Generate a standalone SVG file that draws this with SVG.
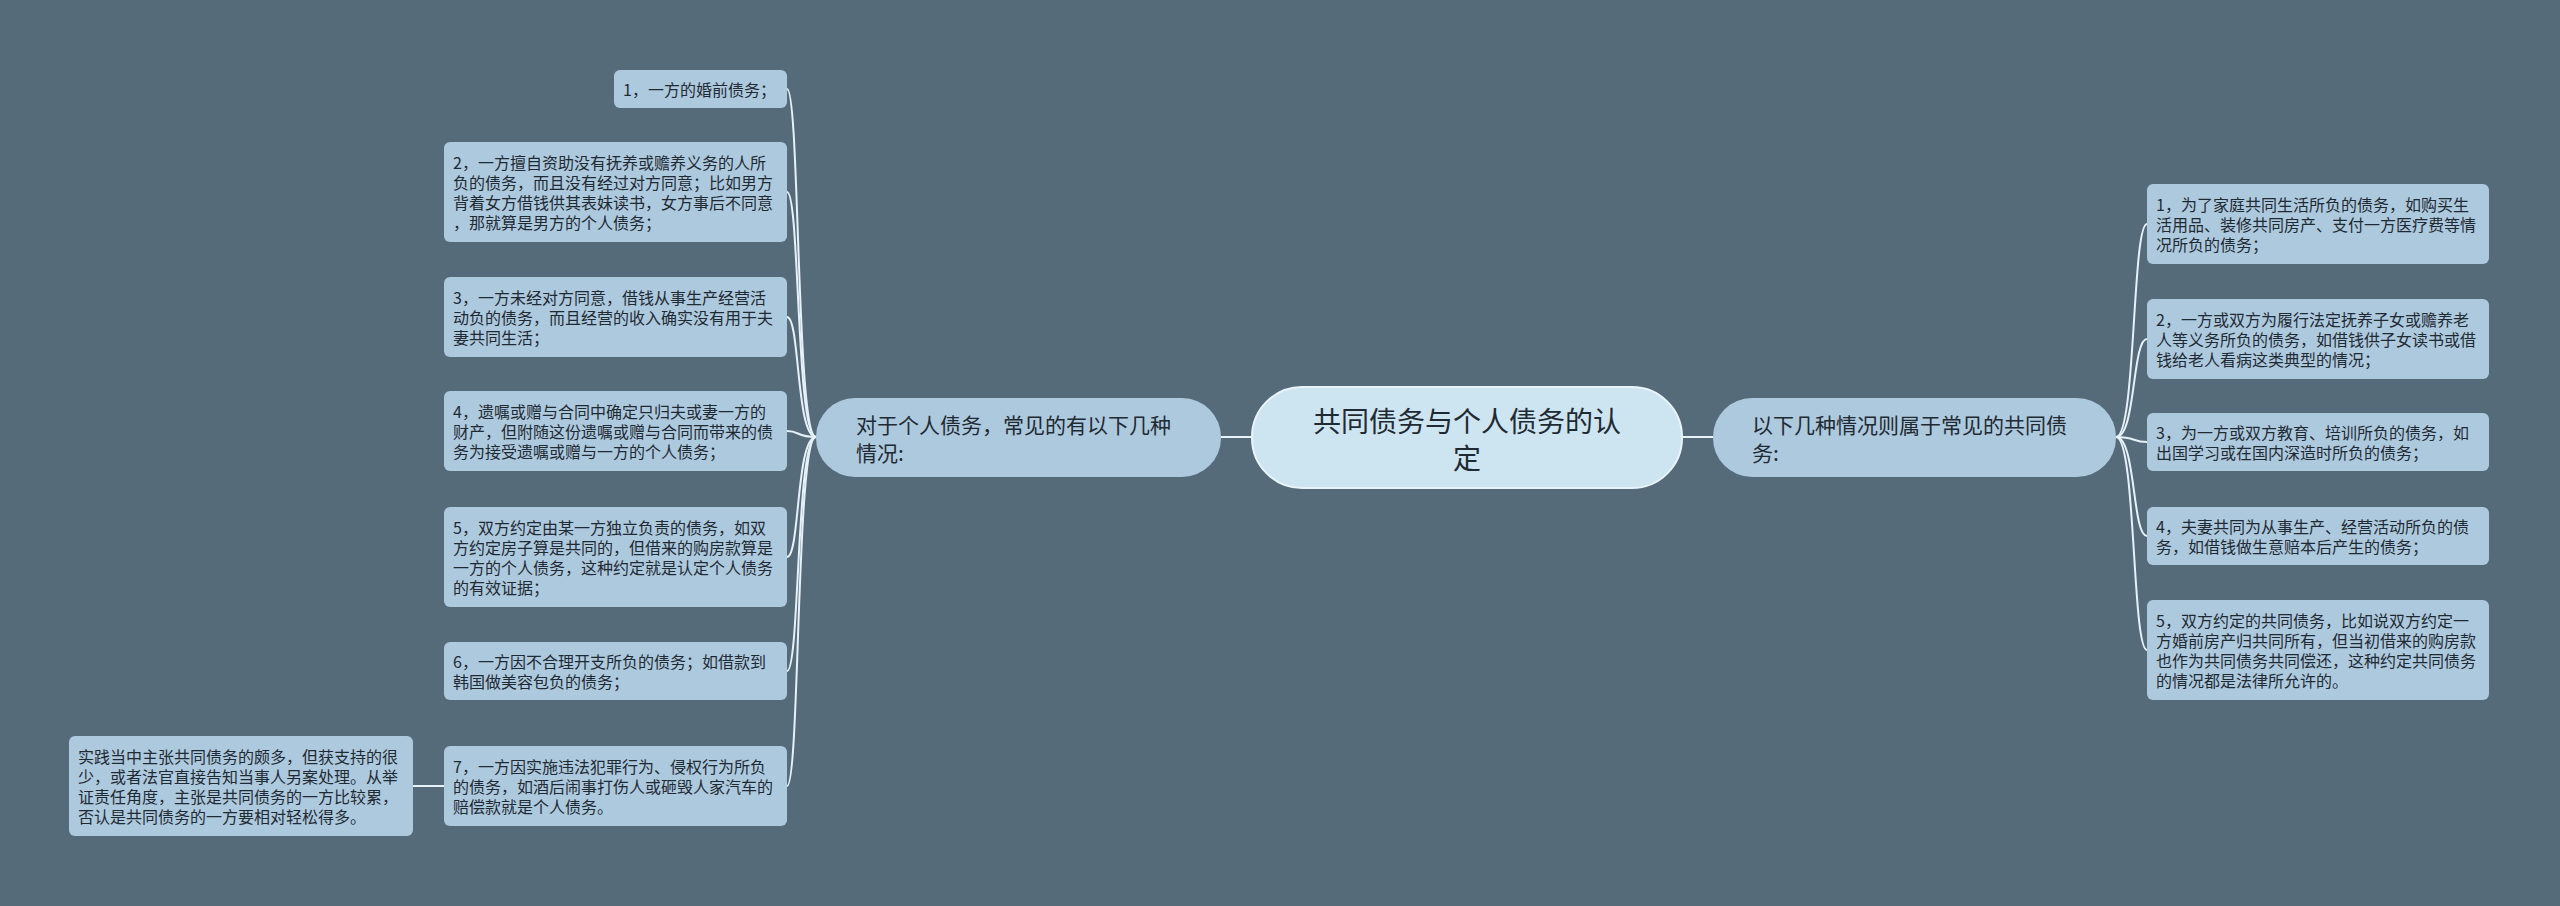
<svg xmlns="http://www.w3.org/2000/svg" width="2560" height="906" viewBox="0 0 2560 906">
<style>
.bg{fill:#566b7a}
.leaf{fill:#adc9de}
.branch{fill:#adc9de}
.center{fill:#cde4f1;stroke:#e9f4fa;stroke-width:2}
.t{font-family:"Noto Sans CJK SC","Noto Sans",sans-serif;font-size:16px;fill:#1f2a33;dominant-baseline:central}
.tb{font-family:"Noto Sans CJK SC","Noto Sans",sans-serif;font-size:21px;fill:#1f2a33;dominant-baseline:central}
.tc{font-family:"Noto Sans CJK SC","Noto Sans",sans-serif;font-size:28px;fill:#1f2a33;dominant-baseline:central;text-anchor:middle}
.c{fill:none;stroke:#e6f1f8;stroke-width:2}
</style>
<rect class="bg" x="0" y="0" width="2560" height="906"/>
<g id="connectors">
<path class="c" d="M1221 437 L1252 437"/>
<path class="c" d="M1682 437 L1713 437"/>
<path class="c" d="M816 437 C796 437 800 89 787 89"/>
<path class="c" d="M816 437 C796 437 800 192 787 192"/>
<path class="c" d="M816 437 C796 437 800 317 787 317"/>
<path class="c" d="M816 437 C796 437 800 431 787 431"/>
<path class="c" d="M816 437 C796 437 800 557 787 557"/>
<path class="c" d="M816 437 C796 437 800 671 787 671"/>
<path class="c" d="M816 437 C796 437 800 786 787 786"/>
<path class="c" d="M444 786 L413 786"/>
<path class="c" d="M2116 437 C2136 437 2132 224 2147 224"/>
<path class="c" d="M2116 437 C2136 437 2132 339 2147 339"/>
<path class="c" d="M2116 437 C2136 437 2132 442 2147 442"/>
<path class="c" d="M2116 437 C2136 437 2132 536 2147 536"/>
<path class="c" d="M2116 437 C2136 437 2132 650 2147 650"/>
</g>
<g id="center">
<rect class="center" x="1252" y="387" width="430" height="101" rx="50"/>
<text class="tc" x="1467"><tspan x="1467" y="420">共同债务与个人债务的认</tspan><tspan x="1467" y="457">定</tspan></text>
</g>
<g id="branch-left">
<rect class="branch" x="816" y="398" width="405" height="79" rx="39"/>
<text class="tb"><tspan x="856" y="424">对于个人债务，常见的有以下几种</tspan><tspan x="856" y="452">情况:</tspan></text>
</g>
<g id="branch-right">
<rect class="branch" x="1713" y="398" width="403" height="79" rx="39"/>
<text class="tb"><tspan x="1752" y="424">以下几种情况则属于常见的共同债</tspan><tspan x="1752" y="452">务:</tspan></text>
</g>
<g id="left-1">
<rect class="leaf" x="614" y="70" width="173" height="38" rx="6"/>
<text class="t"><tspan x="623" y="89">1，一方的婚前债务；</tspan></text>
</g>
<g id="left-2">
<rect class="leaf" x="444" y="142" width="343" height="100" rx="6"/>
<text class="t"><tspan x="453" y="162">2，一方擅自资助没有抚养或赡养义务的人所</tspan><tspan x="453" y="182">负的债务，而且没有经过对方同意；比如男方</tspan><tspan x="453" y="202">背着女方借钱供其表妹读书，女方事后不同意</tspan><tspan x="453" y="222">，那就算是男方的个人债务；</tspan></text>
</g>
<g id="left-3">
<rect class="leaf" x="444" y="277" width="343" height="80" rx="6"/>
<text class="t"><tspan x="453" y="297">3，一方未经对方同意，借钱从事生产经营活</tspan><tspan x="453" y="317">动负的债务，而且经营的收入确实没有用于夫</tspan><tspan x="453" y="337">妻共同生活；</tspan></text>
</g>
<g id="left-4">
<rect class="leaf" x="444" y="391" width="343" height="80" rx="6"/>
<text class="t"><tspan x="453" y="411">4，遗嘱或赠与合同中确定只归夫或妻一方的</tspan><tspan x="453" y="431">财产，但附随这份遗嘱或赠与合同而带来的债</tspan><tspan x="453" y="451">务为接受遗嘱或赠与一方的个人债务；</tspan></text>
</g>
<g id="left-5">
<rect class="leaf" x="444" y="507" width="343" height="100" rx="6"/>
<text class="t"><tspan x="453" y="527">5，双方约定由某一方独立负责的债务，如双</tspan><tspan x="453" y="547">方约定房子算是共同的，但借来的购房款算是</tspan><tspan x="453" y="567">一方的个人债务，这种约定就是认定个人债务</tspan><tspan x="453" y="587">的有效证据；</tspan></text>
</g>
<g id="left-6">
<rect class="leaf" x="444" y="642" width="343" height="58" rx="6"/>
<text class="t"><tspan x="453" y="661">6，一方因不合理开支所负的债务；如借款到</tspan><tspan x="453" y="681">韩国做美容包负的债务；</tspan></text>
</g>
<g id="left-7">
<rect class="leaf" x="444" y="746" width="343" height="80" rx="6"/>
<text class="t"><tspan x="453" y="766">7，一方因实施违法犯罪行为、侵权行为所负</tspan><tspan x="453" y="786">的债务，如酒后闹事打伤人或砸毁人家汽车的</tspan><tspan x="453" y="806">赔偿款就是个人债务。</tspan></text>
</g>
<g id="left-7-note">
<rect class="leaf" x="69" y="736" width="344" height="100" rx="6"/>
<text class="t"><tspan x="78" y="756">实践当中主张共同债务的颇多，但获支持的很</tspan><tspan x="78" y="776">少，或者法官直接告知当事人另案处理。从举</tspan><tspan x="78" y="796">证责任角度，主张是共同债务的一方比较累，</tspan><tspan x="78" y="816">否认是共同债务的一方要相对轻松得多。</tspan></text>
</g>
<g id="right-1">
<rect class="leaf" x="2147" y="184" width="342" height="80" rx="6"/>
<text class="t"><tspan x="2156" y="204">1，为了家庭共同生活所负的债务，如购买生</tspan><tspan x="2156" y="224">活用品、装修共同房产、支付一方医疗费等情</tspan><tspan x="2156" y="244">况所负的债务；</tspan></text>
</g>
<g id="right-2">
<rect class="leaf" x="2147" y="299" width="342" height="80" rx="6"/>
<text class="t"><tspan x="2156" y="319">2，一方或双方为履行法定抚养子女或赡养老</tspan><tspan x="2156" y="339">人等义务所负的债务，如借钱供子女读书或借</tspan><tspan x="2156" y="359">钱给老人看病这类典型的情况；</tspan></text>
</g>
<g id="right-3">
<rect class="leaf" x="2147" y="413" width="342" height="58" rx="6"/>
<text class="t"><tspan x="2156" y="432">3，为一方或双方教育、培训所负的债务，如</tspan><tspan x="2156" y="452">出国学习或在国内深造时所负的债务；</tspan></text>
</g>
<g id="right-4">
<rect class="leaf" x="2147" y="507" width="342" height="58" rx="6"/>
<text class="t"><tspan x="2156" y="526">4，夫妻共同为从事生产、经营活动所负的债</tspan><tspan x="2156" y="546">务，如借钱做生意赔本后产生的债务；</tspan></text>
</g>
<g id="right-5">
<rect class="leaf" x="2147" y="600" width="342" height="100" rx="6"/>
<text class="t"><tspan x="2156" y="620">5，双方约定的共同债务，比如说双方约定一</tspan><tspan x="2156" y="640">方婚前房产归共同所有，但当初借来的购房款</tspan><tspan x="2156" y="660">也作为共同债务共同偿还，这种约定共同债务</tspan><tspan x="2156" y="680">的情况都是法律所允许的。</tspan></text>
</g>
</svg>
